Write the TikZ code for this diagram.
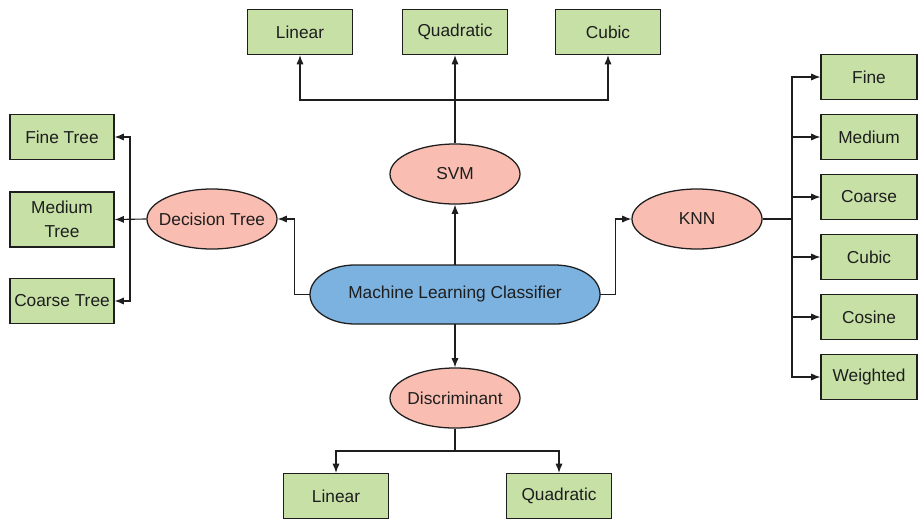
\documentclass[tikz,border=0pt]{standalone}
\usepackage{fontspec}
\setmainfont{Liberation Sans}
\usetikzlibrary{arrows.meta,shapes.geometric}
\definecolor{boxgreen}{RGB}{198,224,166}
\definecolor{ovalred}{RGB}{249,189,177}
\definecolor{mlblue}{RGB}{123,178,224}
\definecolor{inkgray}{RGB}{30,30,30}
\tikzset{
  leaf/.style={draw=inkgray, fill=boxgreen, line width=0.9pt, minimum width=2.625cm,
    minimum height=1.125cm, inner sep=0pt, align=center, text=inkgray},
  algo/.style={ellipse, draw=inkgray, fill=ovalred, line width=0.9pt, minimum width=3.25cm,
    minimum height=1.5cm, inner sep=0pt, text=inkgray},
  arr/.style={-{Latex[length=2.3mm,width=1.8mm]}, line width=0.8pt, draw=inkgray},
  link/.style={line width=0.8pt, draw=inkgray}
}

\begin{document}
\begin{tikzpicture}[x=0.025cm, y=-0.025cm, font=\fontsize{12.3}{17}\selectfont]
  %%%%% START %%%%%
  \useasboundingbox (0,0) rectangle (918,520);

  % centre capsule
  \filldraw[fill=mlblue, draw=inkgray, line width=0.9pt] (355,265) -- (555,265)
    arc[start angle=90, end angle=-90, x radius=1.125cm, y radius=0.7375cm] -- (355,324)
    arc[start angle=270, end angle=90, x radius=1.125cm, y radius=0.7375cm] -- cycle;
  \node[minimum width=7.25cm, minimum height=1.475cm, inner sep=0pt, text=inkgray] (mlc) at (455,294.5) {Machine Learning Classifier};

  % classifiers
  \node[algo] (svm) at (455,174) {SVM};
  \node[algo, inner xsep=-0.25cm] (dt) at (212,219) {Decision Tree};
  \node[algo] (knn) at (697,219) {KNN};
  \node[algo, inner xsep=-0.1cm] (disc) at (455,398) {Discriminant};

  % svm kernels
  \node[leaf] (slin) at (300,32) {Linear};
  \node[leaf] (squad) at (455,32) {Quadratic};
  \node[leaf] (scub) at (608,32) {Cubic};

  % trees
  \node[leaf, minimum width=2.6cm] (tfine) at (62,137) {Fine Tree};
  \node[leaf, minimum width=2.6cm, minimum height=1.375cm] (tmed) at (62,219.5) {Medium\\Tree};
  \node[leaf, minimum width=2.6cm] (tcoarse) at (62,301) {Coarse Tree};

  % knn variants
  \foreach \name/\txt [count=\i] in {kfine/Fine, kmed/Medium, kcoarse/Coarse, kcub/Cubic, kcos/Cosine, kwei/Weighted}
    \node[leaf, minimum width=2.4cm] (\name) at (869,17+60*\i) {\txt};

  % discriminant variants
  \node[leaf] (dlin) at (336,496) {Linear};
  \node[leaf] (dquad) at (559,496) {Quadratic};

  % connectors
  \draw[arr] (mlc.north) -- (svm.south);
  \draw[arr] (mlc.south) -- (disc.north);
  \draw[arr] (mlc.west) -- ++(-15,0) |- (dt.east);
  \draw[arr] (mlc.east) -- ++(15,0) |- (knn.west);

  \coordinate (svmbus) at (455,100);
  \draw[link] (svm.north) -- (svmbus);
  \draw[arr] (svmbus) -- (squad.south);
  \draw[arr] (svmbus) -| (slin.south);
  \draw[arr] (svmbus) -| (scub.south);

  \coordinate (dtbus) at (130,219);
  \draw[arr] (dt.west) -- (tmed.east);
  \draw[arr] (dtbus) |- (tfine.east);
  \draw[arr] (dtbus) |- (tcoarse.east);

  \coordinate (knnbus) at (792,219);
  \draw[link] (knn.east) -- (knnbus);
  \foreach \name in {kfine, kmed, kcoarse, kcub, kcos, kwei}
    \draw[arr] (knnbus) |- (\name.west);

  \coordinate (discbus) at (455,451);
  \draw[link] (disc.south) -- (discbus);
  \draw[arr] (discbus) -| (dlin.north);
  \draw[arr] (discbus) -| (dquad.north);
  %%%%% END %%%%%
\end{tikzpicture}
\end{document}
